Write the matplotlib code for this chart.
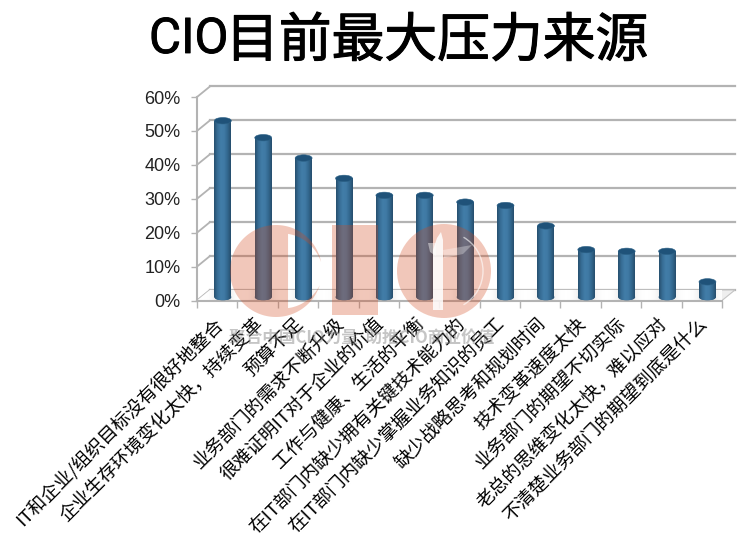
import numpy as np
import matplotlib
matplotlib.use("Agg")
import matplotlib.pyplot as plt
import matplotlib.patheffects as pe
from matplotlib.colors import LinearSegmentedColormap
from matplotlib.patches import Arc, Circle, Ellipse, Polygon, Rectangle
from matplotlib.transforms import ScaledTranslation

labels = ["IT和企业/组织目标没有很好地整合", "企业生存环境变化太快，持续变革", "预算不足",
          "业务部门的需求不断升级", "很难证明IT对于企业的价值", "工作与健康、生活的平衡",
          "在IT部门内缺少拥有关键技术能力的", "在IT部门内缺少掌握业务知识的员工",
          "缺少战略思考和规划时间", "技术变革速度太快", "业务部门的期望不切实际",
          "老总的思维变化太快，难以应对", "不清楚业务部门的期望到底是什么"]
values = [52, 47, 41, 35, 30, 30, 28, 27, 21, 14, 13.5, 13.5, 4.5]
y_ticks = [0, 10, 20, 30, 40, 50, 60]

cjk = ["Liberation Sans", "Noto Sans CJK SC"]
W, H = 755, 543

fig = plt.figure(figsize=(7.55, 5.43), dpi=100)
# latin part is regular weight in the original, so two pieces
latin = fig.text(149 / W, 1 - 40 / H, "CIO", family="Roboto", fontsize=35.5,
                 ha="left", va="center", color="black")
latin.set_path_effects([pe.withStroke(linewidth=0.6, foreground="black")])
# medium weight is not available, a thin stroke thickens the regular one
title = fig.text(226 / W, 1 - 41 / H, "目前最大压力来源", family="Noto Sans CJK SC", fontsize=38,
                 ha="left", va="center", color="black")
title.set_path_effects([pe.withStroke(linewidth=0.8, foreground="black")])

ax = fig.add_axes([197 / W, 1 - 300.5 / H, 525 / W, 203.5 / H])
n = len(values)
x_lo, x_hi = -0.5, n - 0.5
ax.set_xlim(x_lo, x_hi)
ax.set_ylim(0, 60)
ax.patch.set_visible(False)

# depth of the fake 3d box, in data units
dx, dy = 0.32, 3.1
grid_col = "#b3b3b3"

for s in ["top", "right"]:
    ax.spines[s].set_visible(False)
for s in ["left", "bottom"]:
    ax.spines[s].set_color(grid_col)
    ax.spines[s].set_linewidth(1.5)

ax.set_yticks(y_ticks)
ax.set_yticklabels(["%d%%" % v for v in y_ticks], family=cjk, fontsize=13, color="#222222")
ax.set_xticks(np.arange(n + 1) - 0.5, minor=True)
ax.set_xticks(np.arange(n))
ax.set_xticklabels(labels, family=["Noto Sans CJK SC"], fontsize=13.4, rotation=45,
                   ha="right", va="top", rotation_mode="anchor", color="black")
ax.tick_params(axis="x", which="major", length=0, pad=10)
ax.tick_params(axis="x", which="minor", length=5, color=grid_col, width=1)
ax.tick_params(axis="y", length=4, color=grid_col, width=1, pad=8)
shift = ScaledTranslation(-4 / 100, 0, fig.dpi_scale_trans)
for lab in ax.get_xticklabels():
    lab.set_transform(lab.get_transform() + shift)

# back wall and side wall lines
for v in y_ticks:
    ax.plot([x_lo, x_lo + dx], [v, v + dy], color=grid_col, lw=1.3, clip_on=False, zorder=1)
    ax.plot([x_lo + dx, x_hi + dx], [v + dy, v + dy], color=grid_col, lw=1.6, clip_on=False, zorder=1)

# floor
floor = Polygon([(x_lo, 0), (x_lo + dx, dy), (x_hi + dx, dy), (x_hi, 0)], closed=True,
                facecolor="#eeeeee", edgecolor="#c4c4c4", lw=0.8, clip_on=False, zorder=1)
ax.add_patch(floor)
shade = LinearSegmentedColormap.from_list("shade", ["#ffffff", "#f2f2f2", "#c2c2c2"])
xs = np.linspace(x_lo, x_hi + dx, 900)
band = np.abs(np.cos(np.pi * (xs - 0.14)))[None, :] ** 3
im = ax.imshow(band, extent=(x_lo, x_hi + dx, 0, dy), cmap=shade, aspect="auto", zorder=1.5, clip_on=True)
im.set_clip_path(floor)

# bars: cylinders with a horizontal gradient
blue = LinearSegmentedColormap.from_list("cyl", ["#27506f", "#376d95", "#427da8", "#407aa5", "#33688f", "#264e6d"])
grad = np.linspace(0, 1, 64)[None, :]
off_x, off_y, bw, eh = 0.14, 1.0, 0.42, 1.9
for i, v in enumerate(values):
    cx = i + off_x
    left, right = cx - bw / 2, cx + bw / 2
    top_y = v + off_y
    body = ax.bar(cx, v, bottom=off_y, width=bw, color="#3a729b", zorder=3)[0]
    base = Ellipse((cx, off_y), bw, eh, facecolor="#2f628a", edgecolor="none", zorder=3)
    ax.add_patch(base)
    for clip in (body, base):
        g = ax.imshow(grad, extent=(left, right, 0, top_y), cmap=blue, aspect="auto", zorder=3.2)
        g.set_clip_path(clip)
    ax.add_patch(Ellipse((cx, top_y), bw, eh, facecolor="#1f5279", edgecolor="#2c6186", lw=0.4, zorder=3.5))

ax.set_xlim(x_lo, x_hi)
ax.set_ylim(0, 60)

# watermark over everything, drawn in pixel coordinates
wm = fig.add_axes([0, 0, 1, 1], zorder=5)
wm.set_xlim(0, W)
wm.set_ylim(H, 0)
wm.axis("off")
salmon = (211 / 255, 72 / 255, 28 / 255, 0.3)

cx, cy, R, r = 276, 271, 46, 39
a_out = np.radians(np.linspace(11, 342, 120))
a_low = np.radians(np.linspace(342, 288, 20))
a_top = np.radians(np.linspace(72, 11, 40))
outer = np.c_[cx + R * np.cos(a_out), cy - R * np.sin(a_out)]
low = np.c_[cx + np.linspace(R, r, 20) * np.cos(a_low), cy - np.linspace(R, r, 20) * np.sin(a_low)]
top = np.c_[cx + np.linspace(r, R, 40) * np.cos(a_top), cy - np.linspace(r, R, 40) * np.sin(a_top)]
wm.add_patch(Polygon(np.vstack([outer, low, top]), closed=True, facecolor=salmon, edgecolor="none"))
wm.add_patch(Rectangle((332, 225), 46, 90, facecolor=salmon, edgecolor="none"))
wm.add_patch(Circle((444, 271), 47, facecolor=salmon, edgecolor="none"))
wm.add_patch(Arc((444, 271), 78, 78, theta1=-60, theta2=60, edgecolor=(1, 1, 1, 0.6), lw=1.0))
wm.add_patch(Polygon([(433, 250), (437, 238), (441, 232), (443, 240), (443, 310), (433, 310)],
                     closed=True, facecolor=(1, 1, 1, 0.85), edgecolor="none"))
wm.add_patch(Polygon([(443, 250), (472, 245), (463, 254), (444, 258)], closed=True,
                     facecolor=(1, 1, 1, 0.3), edgecolor="none"))
wm.add_patch(Polygon([(428, 243), (436, 243), (436, 256), (430, 252)], closed=True,
                     facecolor=(1, 1, 1, 0.45), edgecolor="none"))
wm.text(362, 338, "聚合中国CIO力量  助推CIO商业价值", family=["Noto Sans CJK SC"], fontsize=12,
        weight="bold", color=(0.5, 0.5, 0.5, 0.45), ha="center", va="center")

fig.savefig("out.png", dpi=100)
